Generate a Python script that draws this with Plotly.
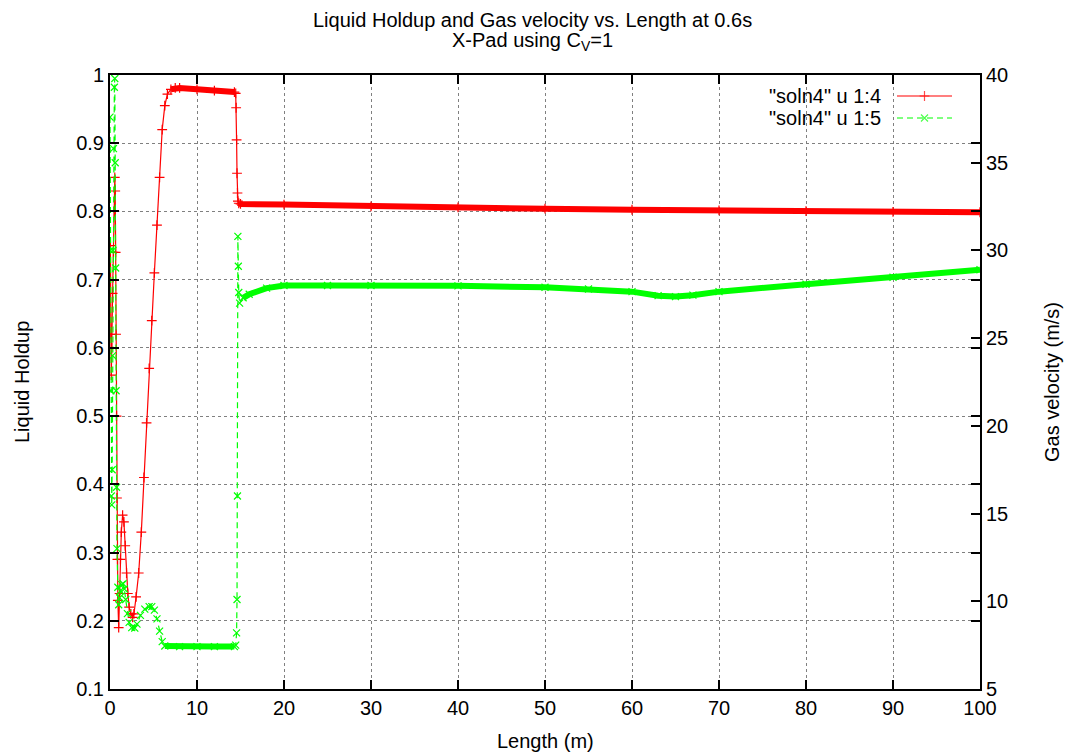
import plotly.graph_objects as go

# ---- data ----
length_holdup = [0.0, 0.05, 0.1, 0.15, 0.2, 0.3, 0.4, 0.5, 0.55, 0.6, 0.65, 0.7, 0.75, 0.8, 0.85, 0.9, 1.0,
                 1.1, 1.2, 1.3, 1.45, 1.6, 1.75, 1.9, 2.05, 2.2, 2.4, 2.6, 2.75, 3.0, 3.3, 3.6, 3.9, 4.2,
                 4.5, 4.8, 5.1, 5.4, 5.7, 6.0, 6.3, 6.6, 7.0, 7.5, 8.0, 10.0, 12.0, 14.3, 14.45, 14.5,
                 14.55, 14.6, 14.65, 14.7, 14.8, 15.0, 20.0, 30.0, 40.0, 50.0, 60.0, 70.0, 80.0, 90.0, 100.0]
holdup = [0.70, 0.75, 0.62, 0.56, 0.60, 0.68, 0.74, 0.80, 0.85, 0.83, 0.74, 0.62, 0.50, 0.38, 0.29, 0.23, 0.19,
          0.24, 0.29, 0.33, 0.355, 0.345, 0.31, 0.27, 0.24, 0.22, 0.21, 0.205, 0.21, 0.235, 0.27, 0.33, 0.41, 0.49,
          0.57, 0.64, 0.71, 0.78, 0.85, 0.92, 0.955, 0.972, 0.979, 0.981, 0.981, 0.979, 0.977, 0.975, 0.973, 0.952,
          0.905, 0.856, 0.827, 0.815, 0.812, 0.811, 0.810, 0.8075, 0.806, 0.804, 0.8025, 0.8015, 0.8005, 0.7995, 0.7988]

length_gas = [0.0, 0.05, 0.1, 0.15, 0.2, 0.25, 0.3, 0.35, 0.4, 0.5, 0.55, 0.6, 0.65, 0.7, 0.75, 0.8, 0.9, 1.0,
              1.1, 1.2, 1.35, 1.5, 1.65, 1.8, 2.0, 2.2, 2.5, 2.85, 3.1, 3.5, 4.0, 4.5, 4.8, 5.1, 5.4, 5.7, 6.0,
              6.3, 8.0, 10.0, 12.0, 14.3, 14.45, 14.55, 14.6, 14.65, 14.7, 14.75, 14.8, 14.9, 15.3, 16.0, 18.0,
              20.0, 25.0, 30.0, 40.0, 50.0, 55.0, 60.0, 63.0, 65.0, 67.0, 70.0, 80.0, 90.0, 100.0]
gas_velocity = [37.6, 30.0, 22.0, 16.0, 15.5, 17.5, 24.0, 30.0, 35.8, 39.3, 39.8, 35.0, 29.0, 22.0, 16.5, 13.0, 10.8, 9.8,
                10.2, 10.6, 10.95, 11.0, 10.7, 10.1, 9.3, 8.8, 8.5, 8.47, 8.7, 9.2, 9.55, 9.7, 9.7, 9.5, 9.0, 8.3, 7.7,
                7.45, 7.42, 7.42, 7.42, 7.42, 7.5, 8.2, 10.1, 16.0, 30.8, 29.1, 27.6, 27.0, 27.3, 27.5, 27.85,
                28.0, 28.0, 28.0, 27.98, 27.9, 27.8, 27.65, 27.42, 27.37, 27.45, 27.65, 28.07, 28.47, 28.9]

x_ticks = [0, 10, 20, 30, 40, 50, 60, 70, 80, 90, 100]
y_ticks = [0.1, 0.2, 0.3, 0.4, 0.5, 0.6, 0.7, 0.8, 0.9, 1.0]
y_tick_labels = ["0.1", "0.2", "0.3", "0.4", "0.5", "0.6", "0.7", "0.8", "0.9", "1"]
y2_ticks = [5, 10, 15, 20, 25, 30, 35, 40]

series_names = ['"soln4" u 1:4', '"soln4" u 1:5']
title_line1 = "Liquid Holdup and Gas velocity vs. Length at 0.6s"
title_line2 = "X-Pad using C<sub>V</sub>=1"

# ---- layout constants ----
W, H = 1065, 755
L, R, T, B = 110, 85, 75, 66
PW, PH = W - L - R, H - T - B
FONT = "Liberation Sans, Arial, sans-serif"
FS = 20
RED = "#ff0000"
GREEN = "#00ff00"

XR = (0, 100)
YR = (0.1, 1.0)
Y2R = (5, 40)


def band(xs, ys, yr):
    """Keep only shallow segments (drawn densely in the original) for the thick band."""
    bx, by = [], []
    for i in range(len(xs) - 1):
        dxp = (xs[i + 1] - xs[i]) / (XR[1] - XR[0]) * PW
        dyp = (ys[i + 1] - ys[i]) / (yr[1] - yr[0]) * PH
        if abs(dyp) <= max(abs(dxp), 1e-9) * 0.6:
            if bx and bx[-1] == xs[i]:
                bx.append(xs[i + 1]); by.append(ys[i + 1])
            else:
                if bx:
                    bx.append(None); by.append(None)
                bx += [xs[i], xs[i + 1]]; by += [ys[i], ys[i + 1]]
    return bx, by


fig = go.Figure()

rbx, rby = band(length_holdup, holdup, YR)
gbx, gby = band(length_gas, gas_velocity, Y2R)

fig.add_trace(go.Scatter(x=rbx, y=rby, mode="lines", line=dict(color=RED, width=6),
                         showlegend=False, hoverinfo="skip", connectgaps=False))
fig.add_trace(go.Scatter(x=length_holdup, y=holdup, mode="lines+markers", name=series_names[0],
                         line=dict(color=RED, width=1.2),
                         marker=dict(symbol="cross-thin-open", size=7, line=dict(color=RED, width=1.2)),
                         showlegend=False))
fig.add_trace(go.Scatter(x=gbx, y=gby, mode="lines", line=dict(color=GREEN, width=6),
                         showlegend=False, hoverinfo="skip", yaxis="y2", connectgaps=False))
fig.add_trace(go.Scatter(x=length_gas, y=gas_velocity, mode="lines+markers", name=series_names[1],
                         line=dict(color=GREEN, width=1.2, dash="6px,4px"),
                         marker=dict(symbol="x-thin-open", size=7, line=dict(color=GREEN, width=1.2)),
                         yaxis="y2", showlegend=False))

# custom gnuplot-style legend (text left, sample right)
leg_x0, leg_x1 = (897 - L) / PW, (952 - L) / PW
leg_rows = [1 - (96 - T) / PH, 1 - (118 - T) / PH]
leg_styles = [(RED, "solid", "cross-thin-open"), (GREEN, "6px,4px", "x-thin-open")]
for name, yy, (col, dash, sym) in zip(series_names, leg_rows, leg_styles):
    fig.add_trace(go.Scatter(x=[leg_x0, (leg_x0 + leg_x1) / 2, leg_x1], y=[yy, yy, yy],
                             mode="lines+markers", xaxis="x3", yaxis="y3",
                             line=dict(color=col, width=1.2, dash=dash),
                             marker=dict(symbol=sym, size=[0, 7, 0], line=dict(color=col, width=1.2)),
                             showlegend=False, hoverinfo="skip"))
    fig.add_annotation(x=(883 - L) / PW, y=yy, xref="paper", yref="paper", text=name,
                       showarrow=False, xanchor="right", yanchor="middle",
                       font=dict(family=FONT, size=FS, color="black"))

axis_common = dict(showline=True, linecolor="black", linewidth=2, ticks="inside", ticklen=9,
                   tickwidth=1.5, tickcolor="black", zeroline=False,
                   tickfont=dict(family=FONT, size=FS, color="black"))

fig.update_layout(
    width=W, height=H, margin=dict(l=L, r=R, t=T, b=B),
    paper_bgcolor="white", plot_bgcolor="white", showlegend=False,
    xaxis=dict(range=list(XR), tickvals=x_ticks, mirror="ticks", showgrid=True,
               gridcolor="#808080", griddash="dot", gridwidth=1, **axis_common),
    yaxis=dict(range=list(YR), tickvals=y_ticks, ticktext=y_tick_labels, mirror="ticks",
               showgrid=True, gridcolor="#808080", griddash="dot", gridwidth=1, **axis_common),
    yaxis2=dict(range=list(Y2R), tickvals=y2_ticks, overlaying="y", side="right", showgrid=False,
                **axis_common),
    xaxis3=dict(domain=[0, 1], range=[0, 1], visible=False, anchor="y3", overlaying="x"),
    yaxis3=dict(domain=[0, 1], range=[0, 1], visible=False, anchor="x3", overlaying="y"),
)

# titles as annotations for exact placement
fig.add_annotation(x=(W / 2 - L) / PW, y=1 + (T - 20) / PH, xref="paper", yref="paper",
                   text=title_line1, showarrow=False, xanchor="center", yanchor="middle",
                   font=dict(family=FONT, size=FS, color="black"))
fig.add_annotation(x=(W / 2 - L) / PW, y=1 + (T - 42) / PH, xref="paper", yref="paper",
                   text=title_line2, showarrow=False, xanchor="center", yanchor="middle",
                   font=dict(family=FONT, size=FS, color="black"))
fig.add_annotation(x=(545 - L) / PW, y=-(741 - T - PH) / PH, xref="paper", yref="paper",
                   text="Length (m)", showarrow=False, xanchor="center", yanchor="middle",
                   font=dict(family=FONT, size=FS, color="black"))
fig.add_annotation(x=(22 - L) / PW, y=0.5, xref="paper", yref="paper", text="Liquid Holdup",
                   showarrow=False, textangle=-90, xanchor="center", yanchor="middle",
                   font=dict(family=FONT, size=FS, color="black"))
fig.add_annotation(x=(1052 - L) / PW, y=0.5, xref="paper", yref="paper", text="Gas velocity (m/s)",
                   showarrow=False, textangle=-90, xanchor="center", yanchor="middle",
                   font=dict(family=FONT, size=FS, color="black"))

fig.write_html("out.html")
